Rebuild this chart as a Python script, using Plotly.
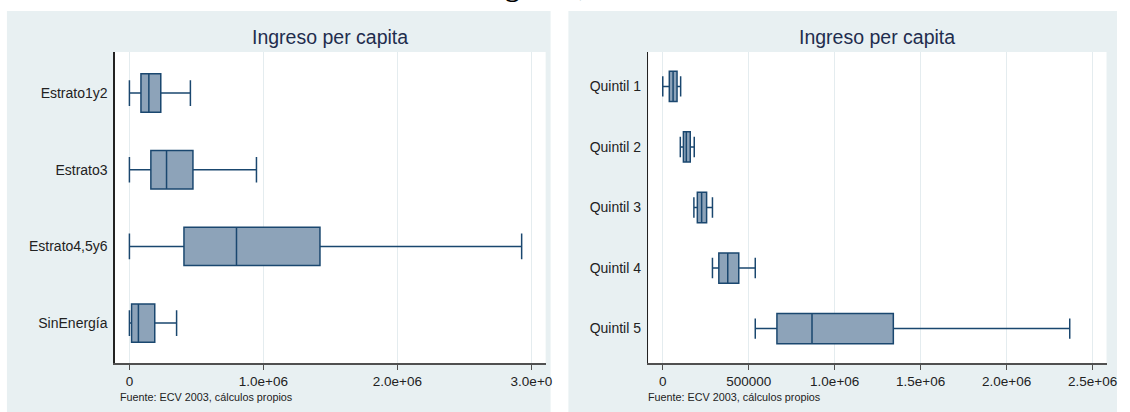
import plotly.graph_objects as go

# ---------------- data ----------------
estratos = ["Estrato1y2", "Estrato3", "Estrato4,5y6", "SinEnergía"]
est_low = [0, 0, 0, 0]
est_q1 = [86000, 160000, 407000, 16000]
est_med = [145000, 277000, 799000, 67000]
est_q3 = [234000, 474000, 1422000, 189000]
est_high = [455000, 948000, 2927000, 352000]

quintiles = ["Quintil 1", "Quintil 2", "Quintil 3", "Quintil 4", "Quintil 5"]
qui_low = [0, 102000, 181000, 289000, 538000]
qui_q1 = [38000, 120000, 201000, 326000, 664000]
qui_med = [60000, 137000, 226000, 378000, 868000]
qui_q3 = [83000, 160000, 255000, 442000, 1341000]
qui_high = [104000, 183000, 289000, 538000, 2367000]

left_ticks = [0, 1000000, 2000000, 3000000]
left_ticktext = ["0", "1.0e+06", "2.0e+06", "3.0e+0"]
right_ticks = [0, 500000, 1000000, 1500000, 2000000, 2500000]
right_ticktext = ["0", "500000", "1.0e+06", "1.5e+06", "2.0e+06", "2.5e+06"]

panel_title = "Ingreso per capita"
source_note = "Fuente: ECV 2003, cálculos propios"
top_title = "Ingresos, 2003"

# ---------------- styling ----------------
W, H = 1130, 412
LINE = "#1A476F"
FILL = "#8DA3B9"
PANEL = "#E8F0F2"
GRID = "#E4ECEF"
FONT = "Liberation Sans, Arial, sans-serif"


def px_x(p):
    return p / W


def px_y(p):
    return (H - p) / H


fig = go.Figure()

fig.add_trace(go.Box(
    y=estratos, q1=est_q1, median=est_med, q3=est_q3,
    lowerfence=est_low, upperfence=est_high,
    orientation="h", xaxis="x", yaxis="y",
    fillcolor=FILL, line=dict(color=LINE, width=1.5),
    width=0.5, whiskerwidth=0.67, boxpoints=False, showlegend=False,
    hoverinfo="skip",
))

fig.add_trace(go.Box(
    y=quintiles, q1=qui_q1, median=qui_med, q3=qui_q3,
    lowerfence=qui_low, upperfence=qui_high,
    orientation="h", xaxis="x2", yaxis="y2",
    fillcolor=FILL, line=dict(color=LINE, width=1.5),
    width=0.5, whiskerwidth=0.67, boxpoints=False, showlegend=False,
    hoverinfo="skip",
))

ydom = [px_y(363), px_y(52)]
xaxis_common = dict(
    showgrid=True, gridcolor=GRID, gridwidth=1, zeroline=False,
    showline=True, linecolor="#505050", linewidth=1.5,
    ticks="outside", ticklen=5, tickcolor="#505050", tickwidth=1,
    tickfont=dict(family=FONT, size=13.5, color="#222222"),
    tickmode="array", fixedrange=True,
)
yaxis_common = dict(
    type="category", showgrid=False, zeroline=False,
    showline=True, linecolor="#222222", linewidth=1.5,
    ticks="outside", ticklen=3, tickcolor="rgba(0,0,0,0)",
    tickfont=dict(family=FONT, size=14, color="#222222"),
    fixedrange=True,
)

fig.update_layout(
    width=W, height=H,
    margin=dict(l=0, r=0, t=0, b=0),
    paper_bgcolor="white", plot_bgcolor="rgba(0,0,0,0)",
    xaxis=dict(domain=[px_x(116), px_x(551)], anchor="y",
               range=[-108600, 3106000], tickvals=left_ticks,
               ticktext=left_ticktext, **xaxis_common),
    yaxis=dict(domain=ydom, anchor="x", range=[-0.52, 3.535],
               categoryorder="array", categoryarray=estratos[::-1],
               **yaxis_common),
    xaxis2=dict(domain=[px_x(654.7), px_x(1117.4)], anchor="y2",
                range=[-84000, 2581000], tickvals=right_ticks,
                ticktext=right_ticktext, **xaxis_common),
    yaxis2=dict(domain=ydom, anchor="x2", range=[-0.57, 4.57],
                categoryorder="array", categoryarray=quintiles[::-1],
                **yaxis_common),
)

# panels (gray regions) and white plot areas
shapes = []
for (x0, x1), (px0, px1) in [((7, 556), (116, 551)), ((574, 1128), (654.7, 1117.4))]:
    shapes.append(dict(type="rect", xref="paper", yref="paper",
                       x0=px_x(x0), x1=px_x(x1), y0=0, y1=px_y(11),
                       fillcolor=PANEL, line=dict(width=0), layer="below"))
    shapes.append(dict(type="rect", xref="paper", yref="paper",
                       x0=px_x(px0), x1=px_x(px1), y0=ydom[0], y1=ydom[1],
                       fillcolor="white", line=dict(width=0), layer="below"))
fig.update_layout(shapes=shapes)

annotations = []
for cx, lx in [((116 + 551) / 2, 119), ((654.7 + 1117.4) / 2, 652)]:
    annotations.append(dict(text=panel_title, xref="paper", yref="paper",
                            x=px_x(cx), y=px_y(37), xanchor="center", yanchor="middle",
                            showarrow=False,
                            font=dict(family=FONT, size=19.5, color="#1F2D4E")))
    annotations.append(dict(text=source_note, xref="paper", yref="paper",
                            x=px_x(lx), y=px_y(397), xanchor="left", yanchor="middle",
                            showarrow=False,
                            font=dict(family=FONT, size=10.8, color="#222222")))
# main title, mostly above the top edge as in the reference
annotations.append(dict(text="<b>" + top_title + "</b>", xref="paper", yref="paper",
                        x=px_x(570), y=px_y(-13.5), xanchor="center", yanchor="middle",
                        showarrow=False,
                        font=dict(family="Liberation Serif, Times New Roman, serif",
                                  size=28, color="black")))
fig.update_layout(annotations=annotations)

fig.write_html("out.html",
               config={"displayModeBar": False, "staticPlot": True},
               post_script="document.body.style.margin='0';document.body.style.padding='0';")
